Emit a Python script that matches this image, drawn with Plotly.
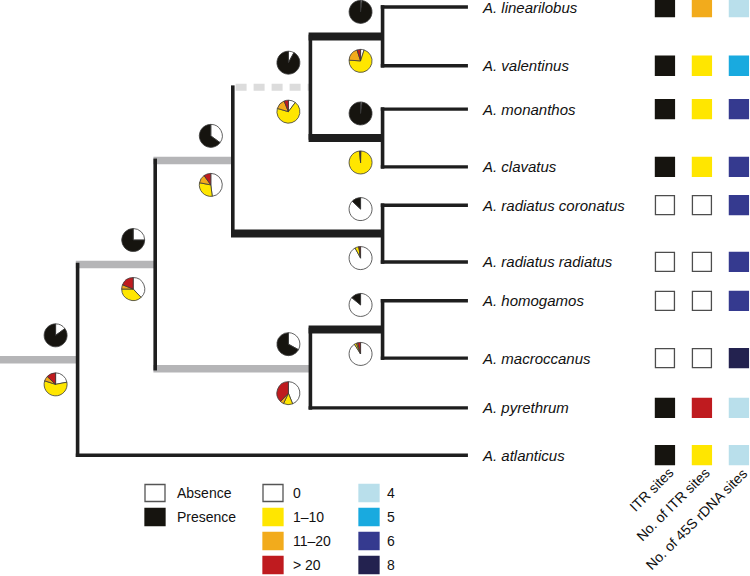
import plotly.graph_objects as go

# ---------------- data ----------------
tip_names = ["A. linearilobus", "A. valentinus", "A. monanthos", "A. clavatus",
             "A. radiatus coronatus", "A. radiatus radiatus", "A. homogamos",
             "A. macroccanus", "A. pyrethrum", "A. atlanticus"]
tip_rows = [0, 1.18, 2.05, 3.21, 3.98, 5.12, 5.9, 7.05, 8.05, 9.0]
tip_parent = ["E", "E", "F", "F", "G", "G", "I", "I", "H", "root"]
tip_depth = 6.03

node_names = ["root", "B", "C", "D", "E", "F", "G", "H", "I"]
node_parent = [None, "root", "B", "C", "D", "D", "C", "B", "H"]
node_depth = [1.0, 2.0, 3.0, 4.0, 4.93, 4.93, 4.93, 4.0, 4.93]
branch_style = ["gray", "gray", "gray", "dashed", "thick", "thick", "thick", "gray", "thick"]

# ancestral state pies (per internal node)
itr_absent = [0.15, 0.25, 0.35, 0.08, 0.02, 0.02, 0.87, 0.33, 0.86]
itr_present = [0.85, 0.75, 0.65, 0.92, 0.98, 0.98, 0.13, 0.67, 0.14]

n_0 = [0.22, 0.38, 0.48, 0.10, 0.05, 0.005, 0.92, 0.44, 0.91]
n_1_10 = [0.58, 0.37, 0.30, 0.68, 0.71, 0.985, 0.055, 0.13, 0.03]
n_11_20 = [0.07, 0.06, 0.12, 0.14, 0.19, 0.0, 0.005, 0.05, 0.02]
n_gt20 = [0.13, 0.19, 0.10, 0.06, 0.05, 0.01, 0.02, 0.38, 0.04]

# tip states
col_names = ["ITR sites", "No. of ITR sites", "No. of 45S rDNA sites"]
itr_sites = ["Presence", "Presence", "Presence", "Presence", "Absence",
             "Absence", "Absence", "Absence", "Presence", "Presence"]
itr_number = ["11–20", "1–10", "1–10", "1–10", "0", "0", "0", "0", "> 20", "1–10"]
rdna_number = ["4", "5", "6", "6", "6", "6", "6", "8", "4", "4"]

leg_presence = ["Absence", "Presence"]
leg_itr = ["0", "1–10", "11–20", "> 20"]
leg_rdna = ["4", "5", "6", "8"]

# ---------------- styles ----------------
COL = {"Absence": "#ffffff", "Presence": "#16140f",
       "0": "#ffffff", "1–10": "#ffe600", "11–20": "#f2ab1c", "> 20": "#bf1b1f",
       "4": "#b9dfeb", "5": "#19aadf", "6": "#353a8f", "8": "#23224f"}
BLACK = "#1e1e1e"
GRAY = "#b5b5b7"
LGRAY = "#dcdcdc"
FONT = "Liberation Sans, Arial, sans-serif"

W, H = 750, 576
X_MAX = 9.665
Y_TOP, Y_BOT = -0.1406, 11.426


def px_x(u):
    return u / X_MAX * W


def px_y(r):
    return (r - Y_TOP) / (Y_BOT - Y_TOP) * H


def dx(px):
    return px * X_MAX / W


def dy(px):
    return px * (Y_BOT - Y_TOP) / H


# ---------------- tree geometry ----------------
depth = dict(zip(node_names, node_depth))
parent = dict(zip(node_names, node_parent))
children = {n: [] for n in node_names}
for i, p in enumerate(tip_parent):
    children[p].append(("tip", i))
for n, p in zip(node_names, node_parent):
    if p:
        children[p].append(("node", n))

ycache = {}


def ypos(kind, key):
    if kind == "tip":
        return tip_rows[key]
    if key not in ycache:
        ys = [ypos(k, c) for k, c in children[key]]
        ycache[key] = sum(ys) / len(ys)
    return ycache[key]


VW = 3.6  # vertical width
segs = {"gray": ([], []), "dashed": ([], []), "thick": ([], []), "thin": ([], []), "vert": ([], [])}


def add(style, x0, x1, y0, y1):
    xs, ys = segs[style]
    xs += [x0, x1, None]
    ys += [y0, y1, None]


for n, st in zip(node_names, branch_style):
    y = ypos("node", n)
    x0 = depth[parent[n]] - dx(VW / 2) if parent[n] else 0
    if st == "dashed":
        x0 = depth[parent[n]] + dx(VW / 2 + 1)
    add(st, x0, depth[n], y, y)
for i, p in enumerate(tip_parent):
    add("thin", depth[p] - dx(VW / 2), tip_depth, tip_rows[i], tip_rows[i])
for n in node_names:
    ys = [ypos(k, c) for k, c in children[n]]
    add("vert", depth[n], depth[n], min(ys) - dy(1.8), max(ys) + dy(1.8))

fig = go.Figure()
line_style = {"gray": dict(color=GRAY, width=7.5),
              "dashed": dict(color=LGRAY, width=7, dash="11px,7px"),
              "thick": dict(color=BLACK, width=8),
              "thin": dict(color=BLACK, width=3.4),
              "vert": dict(color=BLACK, width=VW)}
for st in ["gray", "dashed", "thick", "thin", "vert"]:
    xs, ys = segs[st]
    fig.add_trace(go.Scatter(x=xs, y=ys, mode="lines", line=line_style[st],
                             hoverinfo="skip", showlegend=False))

# ---------------- pies ----------------
R = 11.5
for i, n in enumerate(node_names):
    cx = px_x(depth[n]) - 22
    cyb = px_y(ypos("node", n))
    for off, vals, labs in [(-24.5, [itr_absent[i], itr_present[i]], leg_presence),
                            (24.5, [n_0[i], n_1_10[i], n_11_20[i], n_gt20[i]], leg_itr)]:
        cy = cyb + off
        fig.add_trace(go.Pie(
            values=vals, labels=labs, sort=False, direction="clockwise", rotation=0,
            marker=dict(colors=[COL[l] for l in labs], line=dict(color="#3a3a3a", width=0.8)),
            textinfo="none", hoverinfo="skip", showlegend=False,
            domain=dict(x=[(cx - R) / W, (cx + R) / W], y=[1 - (cy + R) / H, 1 - (cy - R) / H])))

# ---------------- tip state squares ----------------
for ci, states in enumerate([itr_sites, itr_number, rdna_number]):
    fig.add_trace(go.Scatter(
        x=[col_names[ci]] * len(states), y=tip_rows, xaxis="x2", yaxis="y",
        mode="markers", hoverinfo="skip", showlegend=False,
        marker=dict(symbol="square", size=19, color=[COL[s] for s in states],
                    line=dict(width=1.3, color=["#4d4d4d" if COL[s] == "#ffffff" else COL[s] for s in states]))))

annotations = []
for i, name in enumerate(tip_names):
    annotations.append(dict(x=tip_depth + dx(12), y=tip_rows[i], xref="x", yref="y",
                            text="<i>" + name + "</i>", showarrow=False, xanchor="left",
                            font=dict(family=FONT, size=15, color="#111")))
for ci, name in enumerate(col_names):
    annotations.append(dict(x=ci, y=1 - 462 / H, xref="x2", yref="paper", text=name,
                            showarrow=False, xanchor="right", yanchor="top", textangle=-45,
                            xshift=14, font=dict(family=FONT, size=14, color="#111")))

# ---------------- legend ----------------
shapes = []
LEG_ROW0, LEG_DY = 493, 24
SW, SH = 20, 17
for left, tx, labels in [(145, 175, leg_presence), (263, 291, leg_itr), (359, 385, leg_rdna)]:
    for r, lab in enumerate(labels):
        cy = LEG_ROW0 + r * LEG_DY
        c = COL[lab]
        shapes.append(dict(type="rect", xref="paper", yref="paper",
                           x0=left / W, x1=(left + SW) / W,
                           y0=1 - (cy + SH / 2) / H, y1=1 - (cy - SH / 2) / H,
                           fillcolor=c, line=dict(color="#555" if c == "#ffffff" else c, width=1.3)))
        annotations.append(dict(x=tx / W, y=1 - cy / H, xref="paper", yref="paper", text=lab,
                                showarrow=False, xanchor="left", yanchor="middle",
                                font=dict(family=FONT, size=14, color="#111")))

fig.update_layout(
    width=W, height=H, margin=dict(l=0, r=0, t=0, b=0), autosize=False,
    paper_bgcolor="white", plot_bgcolor="rgba(0,0,0,0)",
    xaxis=dict(range=[0, X_MAX], domain=[0, 1], visible=False, fixedrange=True),
    yaxis=dict(range=[Y_BOT, Y_TOP], domain=[0, 1], visible=False, fixedrange=True),
    xaxis2=dict(type="category", categoryarray=col_names, range=[-0.55, 2.3],
                domain=[644.6 / W, 1.0], anchor="y", visible=False, fixedrange=True),
    shapes=shapes, annotations=annotations,
)

fig.write_html("out.html", config={"displayModeBar": False},
               post_script="document.body.style.margin='0';document.body.style.overflow='hidden';")
